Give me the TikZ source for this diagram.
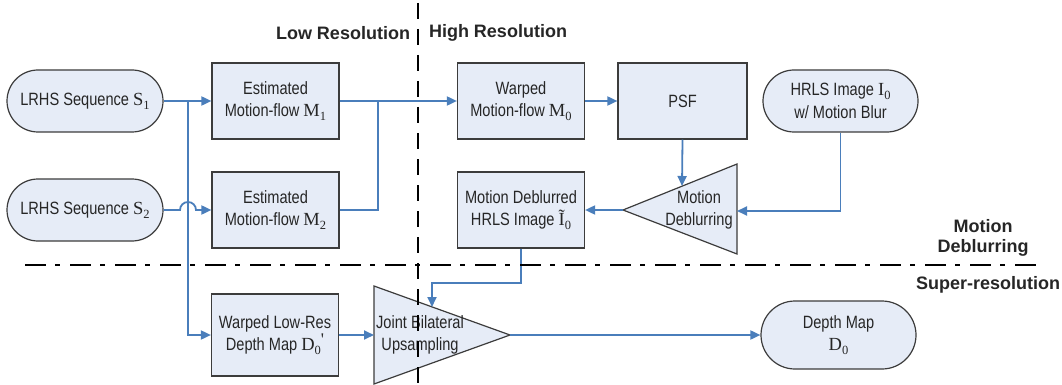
\documentclass[tikz,border=0pt]{standalone}
\usepackage{fontspec}
\setmainfont{Liberation Sans}[FakeStretch=0.82]
\newfontfamily\boldlab{Liberation Sans}
\newfontfamily\serifm{Liberation Serif}
\usetikzlibrary{arrows.meta,calc}
\definecolor{blu}{RGB}{74,126,187}
\definecolor{bfill}{RGB}{230,236,247}
\definecolor{edge}{RGB}{60,60,60}
\definecolor{txt}{RGB}{38,38,38}
\newcommand{\vsym}[2]{{\fontsize{18.5}{22}\selectfont\serifm #1}\raisebox{-4pt}{\fontsize{12.5}{12}\selectfont\serifm #2}}
\begin{document}
\begin{tikzpicture}[x=1pt,y=-1pt,
  every node/.style={font=\fontsize{17.8}{22.5}\selectfont, text=txt},
  box/.style={draw=edge, fill=bfill, line width=1.2pt, minimum width=127pt, minimum height=76pt, align=center, inner sep=0pt},
  pill/.style={box, rounded corners=31pt, minimum width=156pt, minimum height=62pt},
  tri/.style={draw=edge, fill=bfill, line width=1.2pt},
  conn/.style={draw=blu, line width=1.8pt},
  arr/.style={conn, -{Triangle[length=10pt,width=9pt]}},
  lab/.style={font=\boldlab\bfseries\fontsize{18}{22}\selectfont, align=center}
]
\useasboundingbox (0,0) rectangle (1062,385);
% nodes
\node[pill] (s1) at (85,101) {LRHS Sequence \vsym{S}{1}};
\node[pill] (s2) at (85,210) {LRHS Sequence \vsym{S}{2}};
\node[box] (m1) at (275.5,101) {Estimated\\Motion-flow \vsym{M}{1}};
\node[box] (m2) at (275.5,210) {Estimated\\Motion-flow \vsym{M}{2}};
\node[box] (w0) at (521,101) {Warped\\Motion-flow \vsym{M}{0}};
\node[box, minimum width=129pt] (psf) at (682.5,101) {PSF};
\node[pill, minimum width=155pt] (hr) at (840.5,101) {HRLS Image \vsym{I}{0}\\w/ Motion Blur};
\node[box] (deb) at (521,210) {Motion Deblurred\\HRLS Image \vsym{\~I}{0}};
\node[box, minimum height=82pt] (wlr) at (275,335) {Warped Low-Res\\Depth Map \vsym{D}{0}\raisebox{5pt}{\serifm '}};
\node[pill, minimum width=155pt, minimum height=68pt, rounded corners=34pt] (dm) at (838.5,335) {Depth Map\\\vsym{D}{0}};
% motion deblurring triangle
\coordinate (mdA) at (623,210);
\coordinate (mdT) at (737,164);
\coordinate (mdB) at (737,254);
\draw[tri] (mdA) -- (mdT) -- (mdB) -- cycle;
\node[align=center] (mdtxt) at (699,210) {Motion\\Deblurring};
\coordinate (mdTop) at (682,186);
\coordinate (mdRight) at (737,211);
% joint bilateral triangle
\coordinate (jbA) at (510,335);
\coordinate (jbT) at (374,286);
\coordinate (jbB) at (374,384);
\draw[tri] (jbA) -- (jbT) -- (jbB) -- cycle;
\node[align=center] (jbtxt) at (420,335) {Joint Bilateral\\Upsampling};
\coordinate (jbL) at (374,335);
\coordinate (jbTop) at (432,307);
% junction coordinates
\coordinate (j1) at (188,101);
\coordinate (j2) at (378,101);
\coordinate (jk) at (432,283);
% connectors
\draw[arr] (s1.east) -- (m1.west);
\draw[arr] (j1) |- (wlr.west);
\draw[arr] (s2.east) -- ($(s2.east -| j1)+(-8,0)$) arc[start angle=180, end angle=0, radius=8pt] -- (m2.west);
\draw[arr] (m1.east) -- (w0.west);
\draw[conn] (m2.east) -| (j2);
\draw[arr] (w0.east) -- (psf.west);
\draw[arr] (psf.south) -- (mdTop);
\draw[arr] (hr.south) |- (mdRight);
\draw[arr] (mdA) -- (deb.east);
\draw[arr] (deb.south) |- (jk) -- (jbTop);
\draw[arr] (wlr.east) -- (jbL);
\draw[arr] (jbA) -- (dm.west);
% labels
\node[lab] (lowres) at (343,33) {Low Resolution};
\node[lab] (highres) at (498,33) {High Resolution};
\node[lab] (mdlab) at (983,238) {Motion\\[-2pt]Deblurring};
\node[lab] (srlab) at (988,285) {Super-resolution};
% dividing lines
\draw[black, line width=2.5pt, dash pattern=on 21pt off 9pt on 5pt off 10pt] (25,265) -- (1042,265);
\draw[black, line width=2pt, dash pattern=on 16pt off 10pt] (418,3) -- (418,385);
\end{tikzpicture}
\end{document}
